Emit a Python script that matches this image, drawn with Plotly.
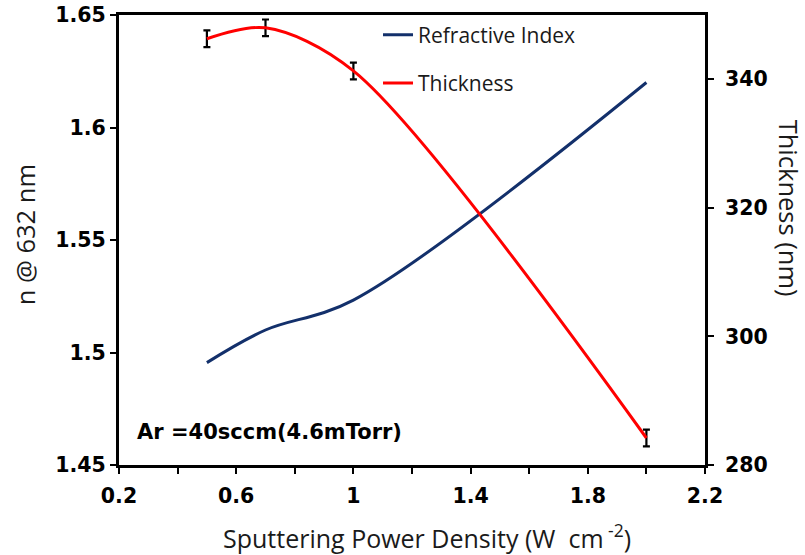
import plotly.graph_objects as go

# Sputtering power density (W cm^-2)
power = [0.5, 0.7, 1.0, 2.0]
# Refractive index at 632 nm
refractive_index = [1.4955, 1.510, 1.5233, 1.620]
# Film thickness (nm) and its uncertainty
thickness = [346.3, 348.0, 341.3, 284.2]
thickness_err = [1.3, 1.3, 1.3, 1.3]

x_ticks = [0.2, 0.6, 1.0, 1.4, 1.8, 2.2]
x_tick_labels = ["0.2", "0.6", "1", "1.4", "1.8", "2.2"]
n_ticks = [1.45, 1.5, 1.55, 1.6, 1.65]
n_tick_labels = ["1.45", "1.5", "1.55", "1.6", "1.65"]
t_ticks = [280, 300, 320, 340]
t_tick_labels = ["280", "300", "320", "340"]

TICK_FONT = dict(family="DejaVu Sans", size=20.5, color="black", weight="bold")
X_TITLE_FONT = dict(family="Open Sans", size=25, color="#1a1a1a")
Y_TITLE_FONT = dict(family="Open Sans", size=25.5, color="#1a1a1a")

fig = go.Figure()

fig.add_trace(go.Scatter(
    x=power, y=refractive_index, name="Refractive Index",
    mode="lines", line=dict(color="#13306b", width=3, shape="spline", smoothing=1),
    yaxis="y", legendgroup="n",
))

fig.add_trace(go.Scatter(
    x=power, y=thickness, name="Thickness",
    mode="lines", line=dict(color="#ff0000", width=3, shape="spline", smoothing=0.9),
    error_y=dict(type="data", array=thickness_err, visible=True,
                 color="black", thickness=2.2, width=3.5),
    yaxis="y2", legendgroup="t",
))

axis_common = dict(showgrid=False, zeroline=False, showline=True, automargin=False,
                   linecolor="black", linewidth=3, ticks="outside",
                   ticklen=6, tickwidth=2, tickcolor="black", tickfont=TICK_FONT)

fig.update_layout(
    width=805, height=555,
    margin=dict(l=119, r=100, t=15, b=90),
    paper_bgcolor="white", plot_bgcolor="white",
    xaxis=dict(
        range=[0.2, 2.2], tickvals=x_ticks, ticktext=x_tick_labels,
        mirror=True, ticklabelstandoff=4,
        minor=dict(dtick=0.2, tick0=0.2, ticks="outside", ticklen=6,
                   tickwidth=2, tickcolor="black"),
        **axis_common,
    ),
    yaxis=dict(
        range=[1.45, 1.65], tickvals=n_ticks, ticktext=n_tick_labels,
        **axis_common,
    ),
    yaxis2=dict(
        range=[280, 350], tickvals=t_ticks, ticktext=t_tick_labels,
        overlaying="y", side="right", ticklabelstandoff=7,
        **axis_common,
    ),
    legend=dict(x=0.442, y=1.001, xanchor="left", yanchor="top",
                bgcolor="rgba(0,0,0,0)",
                font=dict(family="Open Sans", size=21, color="#1a1a1a"),
                tracegroupgap=18, traceorder="grouped"),
    showlegend=True,
    annotations=[
        dict(text="Sputtering Power Density (W&nbsp; cm<sup> -2</sup>)",
             xref="paper", yref="paper", x=0.526, y=-0.158,
             xanchor="center", yanchor="middle", showarrow=False, font=X_TITLE_FONT),
        dict(text="n @ 632 nm", textangle=-90, xref="paper", yref="paper",
             x=-0.160, y=0.511, xanchor="center", yanchor="middle",
             showarrow=False, font=Y_TITLE_FONT),
        dict(text="Thickness (nm)", textangle=90, xref="paper", yref="paper",
             x=1.144, y=0.571, xanchor="center", yanchor="middle",
             showarrow=False, font=Y_TITLE_FONT),
        dict(text="Ar =40sccm(4.6mTorr)", xref="paper", yref="paper",
             x=0.027, y=0.073, xanchor="left", yanchor="middle",
             showarrow=False,
             font=dict(family="DejaVu Sans", size=21, color="black", weight="bold")),
    ],
)

fig.write_html("out.html")
